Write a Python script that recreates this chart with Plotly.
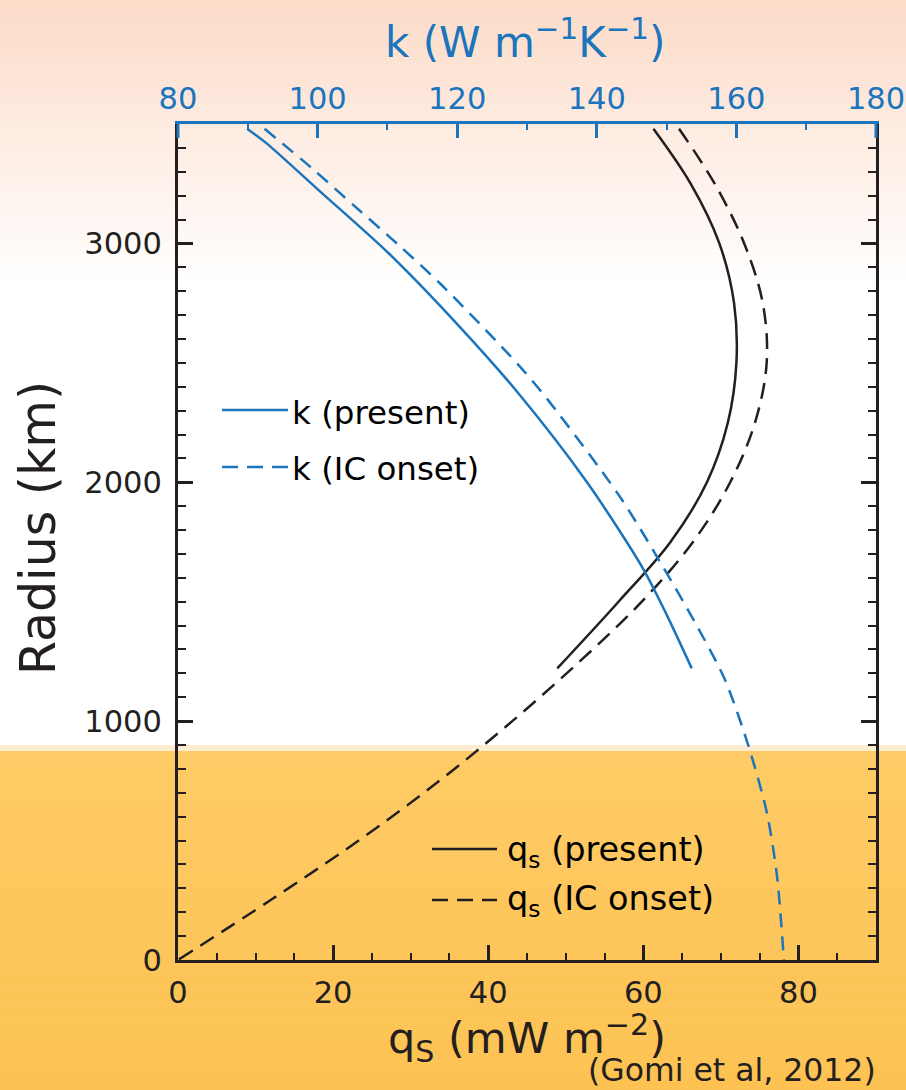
import plotly.graph_objects as go

# ---------------- data ----------------
r_k_present = [3480, 3420, 3219, 2961, 2675, 2375, 2000, 1640, 1446, 1221]
k_present = [89.9, 92.65, 100.3, 110.1, 119.6, 128.7, 138.6, 146.6, 150.0, 153.6]

r_k_onset = [3480, 3317, 3156, 2996, 2828, 2494, 2343, 1940, 1640, 1417, 1177, 908, 625, 356, 0]
k_onset = [92.4, 99.1, 105.3, 111.5, 117.7, 128.7, 133.05, 143.3, 149.6, 154.0, 158.3, 161.6, 164.3, 165.8, 166.8]

r_q_present = [3480, 3250, 3000, 2750, 2500, 2250, 2000, 1750, 1500, 1221]
q_present = [61.3, 66.1, 69.8, 71.7, 72.0, 70.9, 68.2, 63.5, 56.8, 48.9]

r_q_onset = [3480, 3250, 3000, 2750, 2500, 2250, 2000, 1750, 1500, 1250, 1000, 750, 500, 250, 0]
q_onset = [64.6, 69.2, 73.0, 75.4, 75.9, 74.4, 71.2, 66.4, 59.8, 51.8, 43.1, 33.7, 23.3, 11.9, 0.0]

legend_k = ["k (present)", "k (IC onset)"]
legend_q = ["q<sub>s</sub> (present)", "q<sub>s</sub> (IC onset)"]
title_k = "k (W m<sup>−1</sup>K<sup>−1</sup>)"
title_q = "q<sub>S</sub> (mW m<sup>−2</sup>)"
title_r = "Radius (km)"
citation = "(Gomi et al, 2012)"

# ---------------- styling ----------------
W, H = 906, 1090
L, R, T, B = 178, 876, 124, 960
BLUE = "#1b75bc"
BLACK = "#231f20"
FONT = "DejaVu Sans, Liberation Sans, Arial, sans-serif"
DASH_K = "14px,9px"
DASH_Q = "16px,9px"


def px(x):
    return (x - L) / (R - L)


def py(y):
    return (B - y) / (B - T)


fig = go.Figure()

fig.add_trace(go.Scatter(x=k_present, y=r_k_present, xaxis="x2", yaxis="y", mode="lines",
                         line=dict(color=BLUE, width=2.5, shape="spline", smoothing=0.8), showlegend=False))
fig.add_trace(go.Scatter(x=k_onset, y=r_k_onset, xaxis="x2", yaxis="y", mode="lines",
                         line=dict(color=BLUE, width=2.5, dash=DASH_K, shape="spline", smoothing=0.8),
                         showlegend=False))
fig.add_trace(go.Scatter(x=q_present, y=r_q_present, xaxis="x", yaxis="y", mode="lines",
                         line=dict(color=BLACK, width=2.5, shape="spline"), showlegend=False))
fig.add_trace(go.Scatter(x=q_onset, y=r_q_onset, xaxis="x", yaxis="y", mode="lines",
                         line=dict(color=BLACK, width=2.5, dash=DASH_Q, shape="spline"), showlegend=False))

shapes = []
# background: peach gradient at top
n = 40
top_c = (252, 219, 200)
y_fade = 285
for i in range(n):
    y0 = y_fade * i / n
    y1 = y_fade * (i + 1) / n
    t = (i + 0.5) / n
    c = tuple(round(top_c[j] + (255 - top_c[j]) * t) for j in range(3))
    shapes.append(dict(type="rect", xref="paper", yref="paper", layer="below",
                       x0=px(0), x1=px(W), y0=py(y1 + 0.5), y1=py(y0),
                       fillcolor="rgb(%d,%d,%d)" % c, line=dict(width=0)))
# light strip and orange band at bottom
shapes.append(dict(type="rect", xref="paper", yref="paper", layer="below",
                   x0=px(0), x1=px(W), y0=py(751), y1=py(745),
                   fillcolor="rgb(253,237,208)", line=dict(width=0)))
c0 = (254, 203, 102)
c1 = (253, 194, 82)
m = 20
for i in range(m):
    y0 = 751 + (H - 751) * i / m
    y1 = 751 + (H - 751) * (i + 1) / m
    t = (i + 0.5) / m
    c = tuple(round(c0[j] + (c1[j] - c0[j]) * t) for j in range(3))
    shapes.append(dict(type="rect", xref="paper", yref="paper", layer="below",
                       x0=px(0), x1=px(W), y0=py(y1 + 0.5), y1=py(y0),
                       fillcolor="rgb(%d,%d,%d)" % c, line=dict(width=0)))
# blue corner stubs of the top axis frame
for xx in (L, R):
    shapes.append(dict(type="line", xref="paper", yref="paper", x0=px(xx), x1=px(xx),
                       y0=py(T), y1=py(138), line=dict(color=BLUE, width=3)))

# legend sample lines
shapes.append(dict(type="line", xref="paper", yref="paper", x0=px(222), x1=px(288),
                   y0=py(410), y1=py(410), line=dict(color=BLUE, width=2.5)))
shapes.append(dict(type="line", xref="paper", yref="paper", x0=px(222), x1=px(288),
                   y0=py(467), y1=py(467), line=dict(color=BLUE, width=2.5, dash="16px,9px")))
shapes.append(dict(type="line", xref="paper", yref="paper", x0=px(432), x1=px(497),
                   y0=py(849), y1=py(849), line=dict(color=BLACK, width=2.5)))
shapes.append(dict(type="line", xref="paper", yref="paper", x0=px(432), x1=px(497),
                   y0=py(900), y1=py(900), line=dict(color=BLACK, width=2.5, dash="16px,9px")))

annotations = [
    dict(text=legend_k[0], x=px(290), y=py(413), xanchor="left", yanchor="middle",
         font=dict(size=32.5, color="black", family=FONT)),
    dict(text=legend_k[1], x=px(290), y=py(469), xanchor="left", yanchor="middle",
         font=dict(size=32.5, color="black", family=FONT)),
    dict(text=legend_q[0], x=px(505), y=py(852), xanchor="left", yanchor="middle",
         font=dict(size=33.5, color="black", family=FONT)),
    dict(text=legend_q[1], x=px(505), y=py(901), xanchor="left", yanchor="middle",
         font=dict(size=33.5, color="black", family=FONT)),
    dict(text=title_k, x=px(525), y=py(39), xanchor="center", yanchor="middle",
         font=dict(size=42, color=BLUE, family=FONT)),
    dict(text=title_q, x=px(527), y=py(1038), xanchor="center", yanchor="middle",
         font=dict(size=43, color=BLACK, family=FONT)),
    dict(text=title_r, x=px(38), y=py(528), xanchor="center", yanchor="middle", textangle=-90,
         font=dict(size=49, color=BLACK, family=FONT)),
    dict(text=citation, x=px(878), y=py(1070), xanchor="right", yanchor="middle",
         font=dict(size=31.5, color=BLACK, family=FONT)),
]
for a in annotations:
    a.update(xref="paper", yref="paper", showarrow=False)

fig.update_layout(
    width=W, height=H,
    margin=dict(l=L, r=W - R, t=T, b=H - B, pad=0, autoexpand=False),
    paper_bgcolor="white",
    plot_bgcolor="rgba(0,0,0,0)",
    showlegend=False,
    shapes=shapes,
    annotations=annotations,
    font=dict(family=FONT, color=BLACK),
    xaxis=dict(range=[0, 90], tickmode="array", tickvals=[0, 20, 40, 60, 80],
               ticks="inside", ticklen=15, tickwidth=2.5, tickcolor=BLACK,
               minor=dict(dtick=5, tick0=0, ticks="inside", ticklen=7, tickwidth=2, tickcolor=BLACK),
               showline=True, linewidth=3, linecolor=BLACK, mirror=False, automargin=False,
               showgrid=False, zeroline=False, ticklabelstandoff=3,
               tickfont=dict(size=30.5, color=BLACK, family=FONT)),
    xaxis2=dict(range=[80, 180], overlaying="x", side="top", anchor="y",
                tickmode="array", tickvals=[80, 100, 120, 140, 160, 180],
                ticks="inside", ticklen=14, tickwidth=2.5, tickcolor=BLUE,
                minor=dict(dtick=10, tick0=80, ticks="inside", ticklen=6, tickwidth=2, tickcolor=BLUE),
                showline=True, linewidth=3, linecolor=BLUE, automargin=False,
                showgrid=False, zeroline=False, ticklabelstandoff=0,
                tickfont=dict(size=30.5, color=BLUE, family=FONT)),
    yaxis=dict(range=[0, 3500], tickmode="array", tickvals=[0, 1000, 2000, 3000],
               ticks="inside", ticklen=15, tickwidth=2.5, tickcolor=BLACK,
               minor=dict(dtick=100, tick0=0, ticks="inside", ticklen=8, tickwidth=2, tickcolor=BLACK),
               showline=True, linewidth=3, linecolor=BLACK, mirror="ticks", automargin=False,
               showgrid=False, zeroline=False, ticklabelstandoff=7,
               tickfont=dict(size=30.5, color=BLACK, family=FONT)),
)

fig.write_html("out.html")
